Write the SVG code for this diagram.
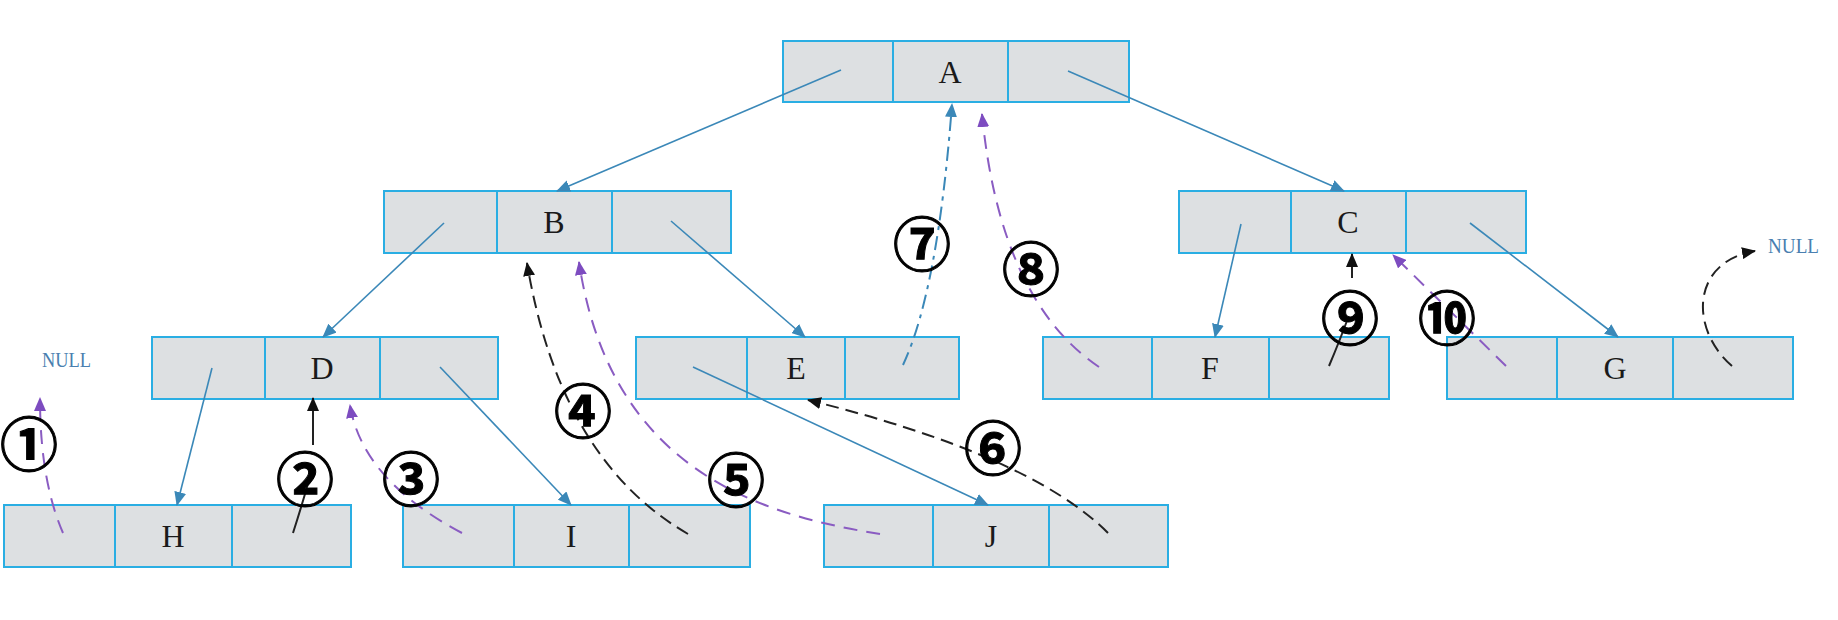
<svg xmlns="http://www.w3.org/2000/svg" width="1838" height="620" viewBox="0 0 1838 620">
<defs>
<style>
.cell{fill:#dde0e2;stroke:#2aaee3;stroke-width:2}
.lbl{font-family:"Liberation Serif",serif;font-size:32px;fill:#1a1a1a;text-anchor:middle}
.null{font-family:"Liberation Serif",serif;font-size:20px;fill:#4a7fb0}
.num{font-family:"Noto Sans CJK SC","DejaVu Sans",sans-serif;font-size:58px;font-weight:bold;fill:#000;stroke:#000;stroke-width:1;text-anchor:middle;dominant-baseline:central}
.ptr{fill:none;stroke:#3b88b8;stroke-width:1.6}
.pur{fill:none;stroke:#8a5cc2;stroke-width:2;stroke-dasharray:14 9}
.blk{fill:none;stroke:#222;stroke-width:2;stroke-dasharray:13 7}
.blks{fill:none;stroke:#222;stroke-width:2}
.bld{fill:none;stroke:#3b88b8;stroke-width:2;stroke-dasharray:14 6 4 6}
</style>
<marker id="mb" markerUnits="userSpaceOnUse" markerWidth="14" markerHeight="12" viewBox="0 0 14 12" refX="13" refY="6" orient="auto"><path d="M0,0 L14,6 L0,12 Z" fill="#3b88b8"/></marker>
<marker id="mk" markerUnits="userSpaceOnUse" markerWidth="14" markerHeight="12" viewBox="0 0 14 12" refX="13" refY="6" orient="auto"><path d="M0,0 L14,6 L0,12 Z" fill="#111"/></marker>
<marker id="mp" markerUnits="userSpaceOnUse" markerWidth="14" markerHeight="12" viewBox="0 0 14 12" refX="13" refY="6" orient="auto"><path d="M0,0 L14,6 L0,12 Z" fill="#7d4cc0"/></marker>
</defs>
<rect width="1838" height="620" fill="#ffffff"/>

<g id="node-A"><rect class="cell" x="783" y="41" width="110" height="61"/><rect class="cell" x="893" y="41" width="115" height="61"/><rect class="cell" x="1008" y="41" width="121" height="61"/><text class="lbl" x="950" y="83">A</text></g>
<g id="node-B"><rect class="cell" x="384" y="191" width="113" height="62"/><rect class="cell" x="497" y="191" width="115" height="62"/><rect class="cell" x="612" y="191" width="119" height="62"/><text class="lbl" x="554" y="233">B</text></g>
<g id="node-C"><rect class="cell" x="1179" y="191" width="112" height="62"/><rect class="cell" x="1291" y="191" width="115" height="62"/><rect class="cell" x="1406" y="191" width="120" height="62"/><text class="lbl" x="1348" y="233">C</text></g>
<g id="node-D"><rect class="cell" x="152" y="337" width="113" height="62"/><rect class="cell" x="265" y="337" width="115" height="62"/><rect class="cell" x="380" y="337" width="118" height="62"/><text class="lbl" x="322" y="379">D</text></g>
<g id="node-E"><rect class="cell" x="636" y="337" width="111" height="62"/><rect class="cell" x="747" y="337" width="98" height="62"/><rect class="cell" x="845" y="337" width="114" height="62"/><text class="lbl" x="796" y="379">E</text></g>
<g id="node-F"><rect class="cell" x="1043" y="337" width="109" height="62"/><rect class="cell" x="1152" y="337" width="117" height="62"/><rect class="cell" x="1269" y="337" width="120" height="62"/><text class="lbl" x="1210" y="379">F</text></g>
<g id="node-G"><rect class="cell" x="1447" y="337" width="110" height="62"/><rect class="cell" x="1557" y="337" width="116" height="62"/><rect class="cell" x="1673" y="337" width="120" height="62"/><text class="lbl" x="1615" y="379">G</text></g>
<g id="node-H"><rect class="cell" x="4" y="505" width="111" height="62"/><rect class="cell" x="115" y="505" width="117" height="62"/><rect class="cell" x="232" y="505" width="119" height="62"/><text class="lbl" x="173" y="547">H</text></g>
<g id="node-I"><rect class="cell" x="403" y="505" width="111" height="62"/><rect class="cell" x="514" y="505" width="115" height="62"/><rect class="cell" x="629" y="505" width="121" height="62"/><text class="lbl" x="571" y="547">I</text></g>
<g id="node-J"><rect class="cell" x="824" y="505" width="109" height="62"/><rect class="cell" x="933" y="505" width="116" height="62"/><rect class="cell" x="1049" y="505" width="119" height="62"/><text class="lbl" x="991" y="547">J</text></g>

<g id="connectors">
<path class="ptr" marker-end="url(#mb)" d="M841,70 L557,191"/>
<path class="ptr" marker-end="url(#mb)" d="M1068,71 L1344,191"/>
<path class="ptr" marker-end="url(#mb)" d="M444,223 L323,337"/>
<path class="ptr" marker-end="url(#mb)" d="M671,221 L805,337"/>
<path class="ptr" marker-end="url(#mb)" d="M212,368 L177,505"/>
<path class="ptr" marker-end="url(#mb)" d="M440,367 L571,505"/>
<path class="ptr" marker-end="url(#mb)" d="M693,367 L988,505"/>
<path class="ptr" marker-end="url(#mb)" d="M1241,224 L1215,337"/>
<path class="ptr" marker-end="url(#mb)" d="M1470,223 L1618,337"/>

<path class="pur" marker-end="url(#mp)" d="M63,533 Q40,480 40,398"/>
<path class="blks" d="M293,533 Q302,505 309,480"/>
<path class="blks" marker-end="url(#mk)" d="M313,445 L313,398"/>
<path class="pur" marker-end="url(#mp)" d="M462,533 Q362,480 350,405"/>
<path class="blk" marker-end="url(#mk)" d="M688,534 Q560,460 527,263"/>
<path class="pur" marker-end="url(#mp)" d="M880,534 C760,515 610,470 579,262"/>
<path class="blk" marker-end="url(#mk)" d="M1108,533 Q1030,455 808,400"/>
<path class="bld" marker-end="url(#mb)" d="M903,365 Q938,290 952,104"/>
<path class="pur" marker-end="url(#mp)" d="M1099,367 Q1000,300 982,114"/>
<path class="blks" d="M1329,366 Q1340,340 1348,318"/>
<path class="blks" marker-end="url(#mk)" d="M1352,278 L1352,254"/>
<path class="pur" marker-end="url(#mp)" d="M1506,366 L1393,255"/>
<path class="blk" marker-end="url(#mk)" d="M1732,366 C1690,330 1690,262 1755,251"/>
</g>

<g id="labels">
<text class="null" x="42" y="367" textLength="49" lengthAdjust="spacingAndGlyphs">NULL</text>
<text class="null" x="1768" y="253" textLength="51" lengthAdjust="spacingAndGlyphs">NULL</text>
<text class="num" x="29" y="441">①</text>
<text class="num" x="305" y="476">②</text>
<text class="num" x="411" y="476">③</text>
<text class="num" x="583" y="408">④</text>
<text class="num" x="736" y="477">⑤</text>
<text class="num" x="993" y="445">⑥</text>
<text class="num" x="922" y="241">⑦</text>
<text class="num" x="1031" y="266">⑧</text>
<text class="num" x="1350" y="315">⑨</text>
<text class="num" x="1447" y="315">⑩</text>
</g>
</svg>
